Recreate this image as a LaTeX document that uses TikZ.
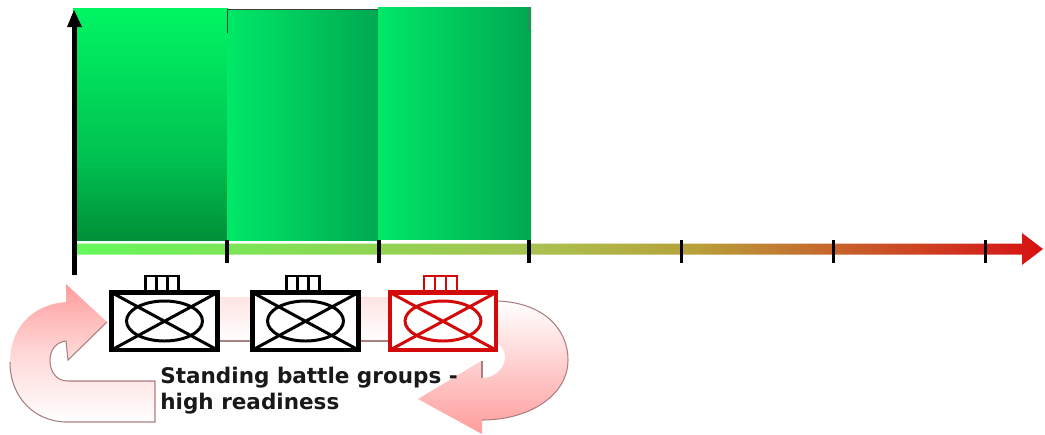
\documentclass[tikz,border=0pt]{standalone}
\usepackage{fontspec}
\setmainfont{DejaVu Sans}
\usepackage{color}
\definecolor{panelhi}{HTML}{00E868}
\definecolor{panello}{HTML}{00A850}
\definecolor{fadetop}{HTML}{00F563}
\definecolor{fademid}{HTML}{00C050}
\definecolor{fadelow}{HTML}{008F38}
\definecolor{timeA}{HTML}{64F85C}
\definecolor{timeB}{HTML}{AAC050}
\definecolor{timeC}{HTML}{B8A03A}
\definecolor{timeD}{HTML}{C85E2A}
\definecolor{timeE}{HTML}{D4201A}
\definecolor{timeF}{HTML}{D8100E}
\definecolor{unitred}{HTML}{D40A0A}
\definecolor{ringpink}{HTML}{FF9C9C}
\definecolor{ringedge}{HTML}{A88080}
\pgfdeclareverticalshading{panelfade}{100bp}{color(0bp)=(fadelow); color(25bp)=(fadelow); color(42bp)=(fademid); color(75bp)=(fadetop); color(100bp)=(fadetop)}
\pgfdeclarehorizontalshading{timefade}{100bp}{color(0bp)=(timeA); color(25bp)=(timeA); color(49bp)=(timeB); color(57bp)=(timeC); color(65bp)=(timeD); color(73bp)=(timeE); color(75bp)=(timeF); color(100bp)=(timeF)}
\tikzset{
	panelside/.style={left color=panelhi, right color=panello},
	tickmark/.style={line width=2pt, black},
	ringedgeline/.style={line width=0.6pt, ringedge},
}
\newcommand{\unitsym}[2]{%
	\draw[#2, line width=1.5pt, fill=white] (#1-19,276) rectangle (#1+14,291);
	\draw[#2, line width=1.2pt] (#1-8,276)--(#1-8,291) (#1+3,276)--(#1+3,291);
	\draw[#2, line width=2.8pt, fill=white] (#1-53,292.5) rectangle (#1+53,350);
	\draw[#2, line width=1.7pt] (#1-53,292.5)--(#1+53,350) (#1-53,350)--(#1+53,292.5);
	\draw[#2, line width=1.7pt] (#1,321) ellipse (38 and 20);
}
\begin{document}
\begin{tikzpicture}[x=0.02cm,y=-0.02cm]
	\useasboundingbox (0,0) rectangle (1045,434);
	% green panels
	\shade[shading=panelfade] (73,8) rectangle (228,240);
	\shade[panelside] (227,9) rectangle (379,240);
	\shade[panelside] (378,7) rectangle (531,239);
	\draw[line width=0.5pt, black!75] (227,33)--(227,9)--(378,9);
	\draw[line width=0.5pt, black!60] (529,7)--(529,30);
	% time axis
	\shade[shading=timefade] (76,243.5)--(1022,243.5)--(1022,233)--(1043,249)--(1022,265)--(1022,254.5)--(76,254.5)--cycle;
	\foreach \tx in {227,379,529,681.5,833.5,985.5}
		\draw[tickmark] (\tx,240)--(\tx,262.5);
	% height axis
	\coordinate (O1) at (74.5,275);
	\coordinate (A1) at (74.5,27);
	\draw[line width=3.1pt] (O1)--(A1);
	\fill (67,27)--(74,10)--(82,27)--cycle;
	% band between the symbols
	\shade[top color=ringpink!28, bottom color=white] (215,297) rectangle (392,341);
	\draw[ringedgeline] (215,341)--(392,341);
	% left arrow
	\shade[top color=ringpink, bottom color=white, middle color=ringpink!40] (107,322)--(66,284)--(66,302)
		.. controls (30,305) and (10,330) .. (10,362)
		.. controls (10,398) and (35,421) .. (65,422)--(155,422)--(155,381)--(68,381)
		.. controls (55,381) and (50,370) .. (50,360)
		.. controls (50,350) and (56,342) .. (66,341)--(68,360)--cycle;
	\draw[ringedgeline] (107,322)--(68,360)--(66,341)
		.. controls (56,342) and (50,350) .. (50,360)
		.. controls (50,370) and (55,381) .. (68,381)--(155,381)--(155,422)--(65,422)
		.. controls (35,421) and (10,398) .. (10,362);
	% right arrow
	\shade[top color=white, bottom color=ringpink] (498,301)
		.. controls (545,303) and (568,330) .. (568,360)
		.. controls (568,395) and (530,420) .. (482,420)--(482,434)--(418,399)--(481,361)--(482,378)
		.. controls (495,378) and (505,368) .. (505,357)
		.. controls (505,351) and (502,346) .. (498,344)--cycle;
	\draw[ringedgeline] (498,301)
		.. controls (545,303) and (568,330) .. (568,360)
		.. controls (568,395) and (530,420) .. (482,420);
	\draw[ringedgeline] (482,361)--(482,378);
	% unit symbols
	\unitsym{164.5}{black}
	\unitsym{305.5}{black}
	\unitsym{443}{unitred}
	\node[anchor=north west, inner sep=0pt, align=left, font=\bfseries\fontsize{12.25}{14.4}\selectfont, text=black!90] (label1) at (160,367) {Standing battle groups -\\high readiness};
\end{tikzpicture}
\end{document}
